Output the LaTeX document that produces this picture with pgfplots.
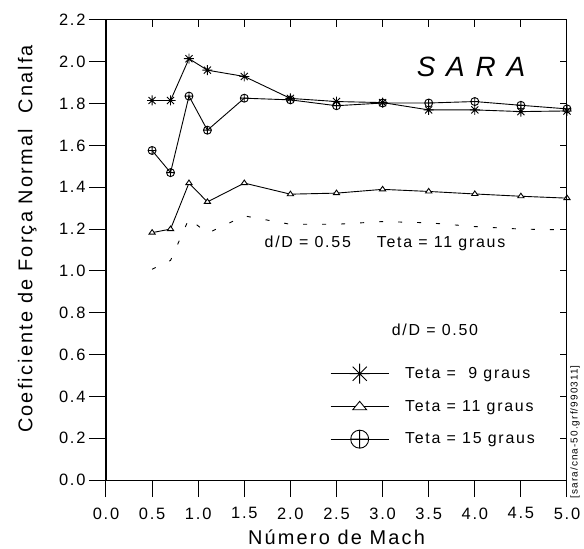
\documentclass[border=0pt]{standalone}
\usepackage{fontspec}
\setmainfont{Liberation Sans}[LetterSpace=11]
\usepackage{pgfplots}
\pgfplotsset{compat=1.18}

\pgfdeclareplotmark{star8}{%
  \pgfpathmoveto{\pgfqpoint{-\pgfplotmarksize}{0pt}}%
  \pgfpathlineto{\pgfqpoint{\pgfplotmarksize}{0pt}}%
  \pgfpathmoveto{\pgfqpoint{0pt}{-\pgfplotmarksize}}%
  \pgfpathlineto{\pgfqpoint{0pt}{\pgfplotmarksize}}%
  \pgfpathmoveto{\pgfqpoint{-.7071\pgfplotmarksize}{-.7071\pgfplotmarksize}}%
  \pgfpathlineto{\pgfqpoint{.7071\pgfplotmarksize}{.7071\pgfplotmarksize}}%
  \pgfpathmoveto{\pgfqpoint{-.7071\pgfplotmarksize}{.7071\pgfplotmarksize}}%
  \pgfpathlineto{\pgfqpoint{.7071\pgfplotmarksize}{-.7071\pgfplotmarksize}}%
  \pgfusepathqstroke}

\begin{document}
\begin{tikzpicture}
\begin{axis}[
  at={(0,0)}, anchor=south west,
  scale only axis, width=461bp, height=460bp,
  xmin=0, xmax=5, ymin=0, ymax=2.2,
  xtick={0,0.5,1,1.5,2,2.5,3,3.5,4,4.5,5},
  ytick={0,0.2,0.4,0.6,0.8,1.0,1.2,1.4,1.6,1.8,2.0,2.2},
  xtick pos=left, ytick pos=left,
  tick align=outside, major tick length=17bp,
  axis line style={line width=1bp}, tick style={line width=1bp, black},
  /pgf/number format/assume math mode=true,
  xticklabel style={yshift=-7bp, /pgf/number format/.cd, fixed, fixed zerofill, precision=1},
  yticklabel style={/pgf/number format/.cd, fixed, fixed zerofill, precision=1},
  tick label style={font=\fontsize{16.5}{18}\selectfont},
  xlabel={Número de Mach},
  ylabel={Coeficiente de Força Normal\ \ Cnalfa},
  label style={font=\fontsize{20}{22}\selectfont},
  xlabel style={at={(axis description cs:0.5,-0.141)}, anchor=base},
  ylabel style={at={(axis description cs:-0.171,0.524)}, anchor=center},
  clip=false,
  legend image code/.code={\draw[#1] (0bp,0bp) -- (58bp,0bp); \draw[#1] plot coordinates {(29bp,0bp)}; \path (72bp,0bp);},
  legend style={at={(axis description cs:0.486,0.161)}, anchor=west, draw=none, fill=none,
    inner sep=0pt, font=\fontsize{16}{18}\selectfont, row sep=15bp},
  legend cell align=left,
]
% Teta = 9 graus (d/D = 0.50)
\addplot[black, line width=0.9bp, mark=star8, mark size=5bp, mark options={solid}, forget plot] coordinates {
(0.5,1.815) (0.7,1.815) (0.9,2.015) (1.1,1.96) (1.5,1.93) (2.0,1.825)
(2.5,1.81) (3.0,1.805) (3.5,1.77) (4.0,1.77) (4.5,1.762) (5.0,1.765)};
% Teta = 11 graus
\addplot[black, line width=0.9bp, mark=triangle*, mark size=3.6bp, mark options={fill=white, yscale=0.85}, forget plot] coordinates {
(0.5,1.183) (0.7,1.20) (0.9,1.42) (1.1,1.33) (1.5,1.42) (2.0,1.367)
(2.5,1.372) (3.0,1.39) (3.5,1.38) (4.0,1.368) (4.5,1.357) (5.0,1.348)};
% Teta = 15 graus
\addplot[black, line width=0.9bp, mark=oplus, mark size=4bp, forget plot] coordinates {
(0.5,1.576) (0.7,1.47) (0.9,1.836) (1.1,1.673) (1.5,1.826) (2.0,1.818)
(2.5,1.79) (3.0,1.803) (3.5,1.803) (4.0,1.81) (4.5,1.792) (5.0,1.775)};
% d/D = 0.55, Teta = 11 graus
\addplot[black, line width=0.9bp, dash pattern=on 4bp off 15bp, forget plot] coordinates {
(0.5,1.008) (0.7,1.05) (0.9,1.25) (1.1,1.18) (1.5,1.263) (2.0,1.223)
(2.5,1.223) (3.0,1.236) (3.5,1.23) (4.0,1.212) (4.5,1.20) (5.0,1.196)};

\addlegendimage{black, line width=0.9bp, mark=star8, mark size=10bp}
\addlegendentry{Teta =\ \ 9 graus}
\addlegendimage{black, line width=0.9bp, mark=triangle*, mark size=8bp, mark options={fill=white, yscale=0.7}}
\addlegendentry{Teta = 11 graus}
\addlegendimage{black, line width=0.9bp, mark=oplus, mark size=9bp}
\addlegendentry{Teta = 15 graus}

\node[font=\fontsize{28}{30}\selectfont\itshape, anchor=base] at (axis cs:3.959,1.932) {S A R A};
\node[font=\fontsize{16}{18}\selectfont, anchor=base] at (axis cs:3.026,1.11) {d/D = 0.55\hspace{26bp}Teta = 11 graus};
\node[font=\fontsize{16}{18}\selectfont, anchor=center] at (axis cs:3.568,0.717) {d/D = 0.50};
\node[font=\fontsize{10}{12}\selectfont, rotate=90, anchor=center] at (axis cs:5.087,0.23) {[sara/cna-50.grf/990311]};
\end{axis}
\begin{axis}[
  at={(0,0)}, anchor=south west,
  scale only axis, width=461bp, height=460bp,
  xmin=0, xmax=5, ymin=0, ymax=2.2,
  xtick={0,0.5,1,1.5,2,2.5,3,3.5,4,4.5,5},
  ytick={0,0.2,0.4,0.6,0.8,1.0,1.2,1.4,1.6,1.8,2.0,2.2},
  xtick pos=right, ytick pos=right,
  tick align=inside, major tick length=7bp,
  xticklabels={}, yticklabels={},
  axis line style={line width=1bp}, tick style={line width=1bp, black},
]
\end{axis}
\pgfresetboundingbox
\useasboundingbox (-106bp,-69bp) rectangle (478bp,480bp);
\end{tikzpicture}
\end{document}
